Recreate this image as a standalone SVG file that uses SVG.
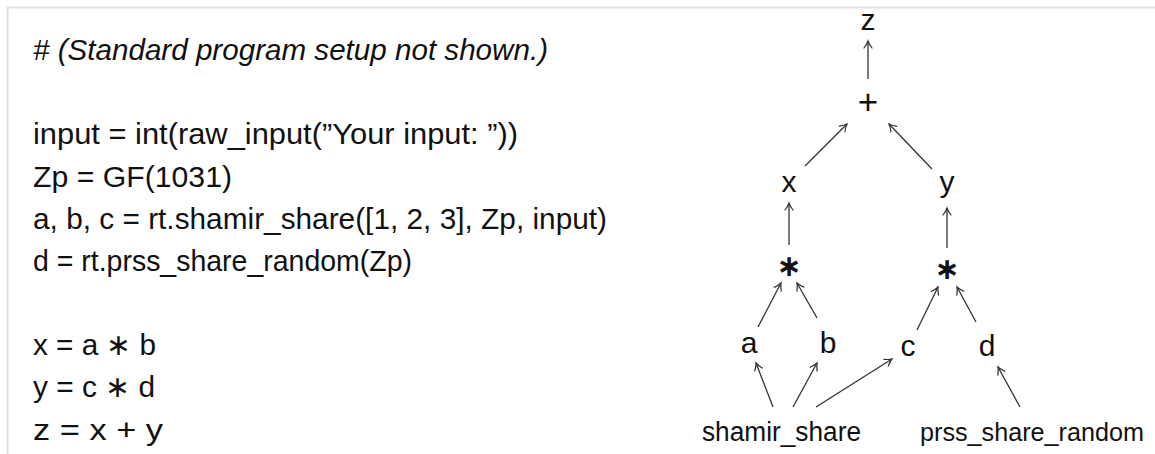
<svg xmlns="http://www.w3.org/2000/svg" width="1155" height="454" viewBox="0 0 1155 454">
<defs>
<marker id="arr" viewBox="-10 -6 12 12" markerWidth="12" markerHeight="12" refX="0" refY="0" orient="auto" markerUnits="userSpaceOnUse">
<path d="M -7 -4 Q -3 -1 0 0 Q -3 1 -7 4" fill="none" stroke="#333" stroke-width="1.2" stroke-linecap="round"/>
</marker>
<style>
.code{font-family:"Liberation Sans",Arial,sans-serif;font-size:30px;fill:#111}
.cmt{font-style:italic}
.lbl{font-family:"Liberation Sans",Arial,sans-serif;font-size:30px;fill:#111;text-anchor:middle}
.op{font-family:"DejaVu Sans",sans-serif;font-size:30px;fill:#111;text-anchor:middle;font-weight:bold}
.edge{stroke:#333;stroke-width:1.3;fill:none;marker-end:url(#arr)}
</style>
</defs>
<rect width="1155" height="454" fill="#ffffff"/>
<polyline points="7.5,454 7.5,7.5 1155,7.5" fill="none" stroke="#e2e2e2" stroke-width="2"/>

<g id="code">
<text class="code cmt" x="33" y="60" textLength="515" lengthAdjust="spacingAndGlyphs"># (Standard program setup not shown.)</text>
<text class="code" x="33" y="144" textLength="485" lengthAdjust="spacingAndGlyphs">input = int(raw_input(”Your input: ”))</text>
<text class="code" x="33" y="187" textLength="199" lengthAdjust="spacingAndGlyphs">Zp = GF(1031)</text>
<text class="code" x="33" y="229" textLength="574" lengthAdjust="spacingAndGlyphs">a, b, c = rt.shamir_share([1, 2, 3], Zp, input)</text>
<text class="code" x="33" y="271" textLength="379" lengthAdjust="spacingAndGlyphs">d = rt.prss_share_random(Zp)</text>
<text class="code" x="33" y="355" textLength="123" lengthAdjust="spacingAndGlyphs">x = a ∗ b</text>
<text class="code" x="33" y="397" textLength="122" lengthAdjust="spacingAndGlyphs">y = c ∗ d</text>
<text class="code" x="33" y="440" textLength="130" lengthAdjust="spacingAndGlyphs">z = x + y</text>
</g>

<g id="connectors">
<line class="edge" x1="868" y1="79" x2="868" y2="41"/>
<line class="edge" x1="805" y1="166" x2="847" y2="124"/>
<line class="edge" x1="932" y1="169" x2="889" y2="124"/>
<line class="edge" x1="789" y1="245" x2="789" y2="203"/>
<line class="edge" x1="947" y1="248" x2="947" y2="208"/>
<line class="edge" x1="758" y1="327" x2="781" y2="283"/>
<line class="edge" x1="817" y1="318" x2="797" y2="283"/>
<line class="edge" x1="917" y1="330" x2="938" y2="287"/>
<line class="edge" x1="976" y1="322" x2="957" y2="287"/>
<line class="edge" x1="773" y1="407" x2="756" y2="363"/>
<line class="edge" x1="793" y1="407" x2="817" y2="363"/>
<line class="edge" x1="816" y1="407" x2="892" y2="359"/>
<line class="edge" x1="1020" y1="407" x2="998" y2="367"/>
</g>

<g id="node-z"><text class="lbl" x="868" y="30">z</text></g>
<g id="node-plus"><text class="lbl" x="868" y="114" style="font-size:35px">+</text></g>
<g id="node-x"><text class="lbl" x="789" y="192">x</text></g>
<g id="node-y"><text class="lbl" x="947" y="192">y</text></g>
<g id="node-mul1"><text class="op" x="789" y="276">∗</text></g>
<g id="node-mul2"><text class="op" x="947" y="279">∗</text></g>
<g id="node-a"><text class="lbl" x="749" y="353">a</text></g>
<g id="node-b"><text class="lbl" x="828" y="353">b</text></g>
<g id="node-c"><text class="lbl" x="908" y="356">c</text></g>
<g id="node-d"><text class="lbl" x="987" y="356">d</text></g>
<g id="node-shamir"><text class="lbl" x="781.5" y="441" style="font-size:27px" textLength="159" lengthAdjust="spacingAndGlyphs">shamir_share</text></g>
<g id="node-prss"><text class="lbl" x="1032" y="441" style="font-size:26px" textLength="224" lengthAdjust="spacingAndGlyphs">prss_share_random</text></g>
</svg>
